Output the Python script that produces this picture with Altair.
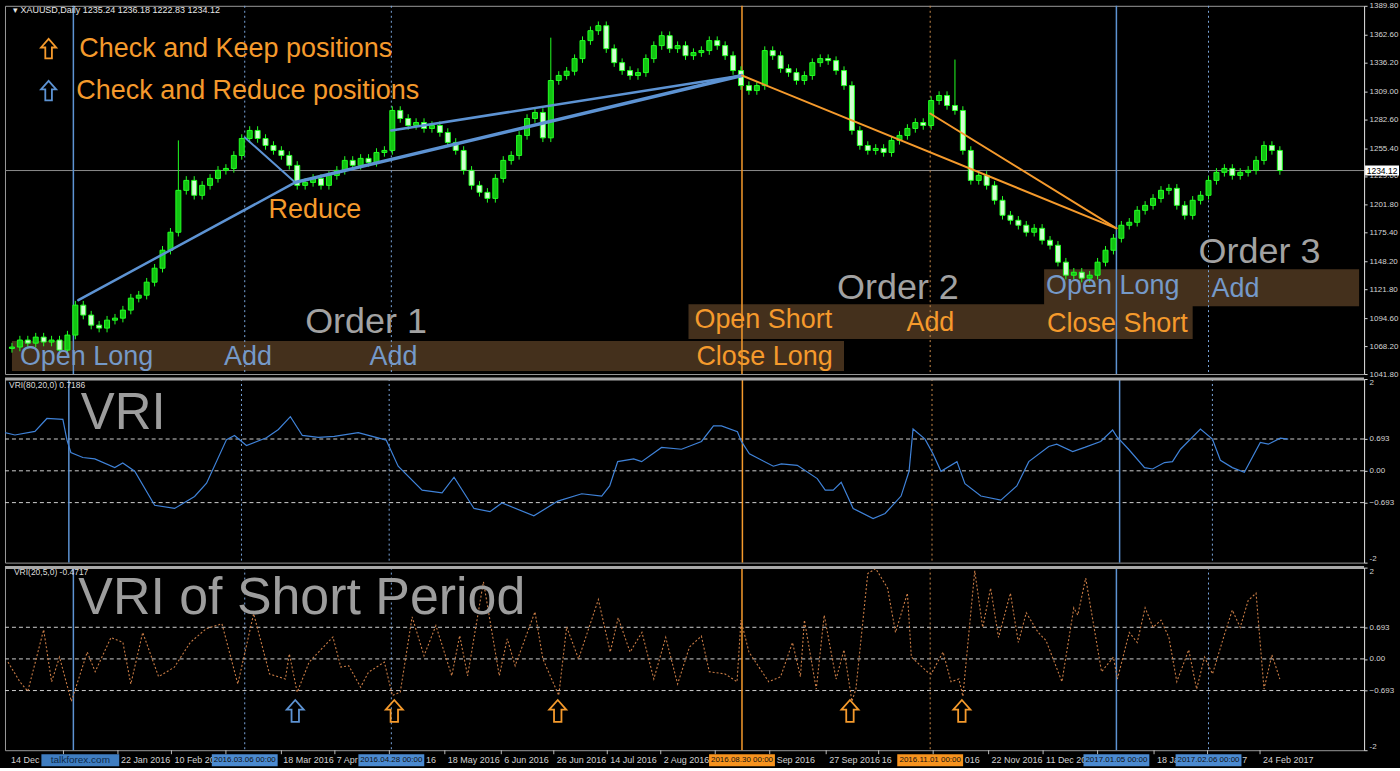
import altair as alt
import pandas as pd

# ---------------- data ----------------
# XAUUSD daily closes, sampled every second trading day (day index = 2*k)
closes = [1067.3, 1073.9, 1071.0, 1076.7, 1072.0, 1073.9, 1064.4, 1078.6, 1106.9, 1097.5,
          1088.0, 1085.2, 1092.7, 1094.6, 1102.2, 1113.5, 1116.3, 1128.6, 1141.8, 1158.8,
          1175.8, 1215.4, 1224.8, 1210.7, 1220.1, 1226.7, 1234.3, 1236.1, 1248.4, 1264.4,
          1272.0, 1264.4, 1257.8, 1253.1, 1248.4, 1239.0, 1220.1, 1222.9, 1226.7, 1220.1,
          1229.5, 1234.3, 1243.7, 1239.0, 1245.6, 1241.8, 1251.2, 1253.1, 1290.9, 1283.3,
          1276.7, 1279.5, 1273.9, 1276.7, 1270.1, 1260.7, 1253.1, 1234.3, 1220.1, 1213.5,
          1207.8, 1226.7, 1243.7, 1248.4, 1267.3, 1283.3, 1289.0, 1265.0, 1319.2, 1324.0,
          1328.0, 1339.9, 1356.9, 1366.3, 1371.0, 1349.3, 1336.1, 1328.6, 1323.9, 1326.7,
          1339.9, 1352.2, 1361.6, 1349.3, 1352.2, 1342.7, 1345.6, 1347.5, 1356.9, 1352.2,
          1342.7, 1328.6, 1314.4, 1309.7, 1314.4, 1347.5, 1342.7, 1330.5, 1326.7, 1319.2,
          1323.9, 1336.1, 1339.9, 1338.0, 1328.6, 1314.4, 1272.0, 1257.8, 1253.1, 1255.0,
          1251.2, 1262.6, 1267.3, 1273.9, 1279.5, 1276.7, 1300.3, 1305.0, 1295.6, 1290.9,
          1253.1, 1224.8, 1229.5, 1220.1, 1206.0, 1191.8, 1187.1, 1182.4, 1175.8, 1179.5,
          1168.2, 1163.5, 1147.5, 1135.2, 1138.0, 1132.4, 1135.2, 1147.5, 1158.8, 1170.1,
          1182.4, 1185.2, 1196.5, 1201.2, 1207.8, 1215.4, 1217.3, 1201.2, 1191.8, 1206.0,
          1210.7, 1224.8, 1232.4, 1236.1, 1229.5, 1232.4, 1234.3, 1243.7, 1257.8, 1253.1,
          1234.12]
first_open = 1066.0
spike_k = [21, 68, 119]
spike_high = [1262.6, 1359.7, 1339.0]
bid = 1234.12

price_ticks = [1041.8, 1068.2, 1094.6, 1121.8, 1148.2, 1175.4, 1201.8, 1229.0,
               1255.4, 1282.6, 1309.0, 1336.2, 1362.6, 1389.8]
vri_ticks = [-2, -0.693, 0, 0.693, 2]
vri_levels = [0.693, 0.0, -0.693]

# VRI(80,20,0)
vri_day = [-1, 2, 7, 10, 14, 15, 16, 19, 22, 27,
           29, 32, 37, 42, 47, 50, 55, 57, 60, 65,
           68, 71, 74, 78, 82, 88, 95, 98, 104, 109,
           112, 117, 121, 124, 132, 138, 144, 149, 151, 153,
           157, 159, 164, 169, 174, 177, 179, 183, 184, 186,
           192, 194, 198, 203, 205, 207, 209, 212, 217, 220,
           224, 226, 227, 230, 232, 234, 238, 240, 244, 249,
           253, 256, 261, 263, 267, 270, 274, 277, 278, 281,
           285, 287, 290, 292, 294, 299, 302, 304, 307, 310,
           314, 316, 319, 321]
vri_val = [0.84, 0.78, 0.86, 1.14, 1.12, 0.68, 0.40, 0.29, 0.26, 0.07,
           0.17, -0.01, -0.75, -0.82, -0.56, -0.27, 0.68, 0.77, 0.55, 0.72,
           0.90, 1.18, 0.77, 0.73, 0.75, 0.83, 0.67, 0.10, -0.42, -0.48,
           -0.14, -0.82, -0.89, -0.70, -0.98, -0.66, -0.50, -0.55, -0.33, 0.20,
           0.26, 0.20, 0.51, 0.47, 0.64, 0.98, 0.98, 0.85, 0.64, 0.37,
           0.10, 0.15, 0.12, -0.17, -0.42, -0.42, -0.25, -0.82, -1.04, -0.93,
           -0.55, -0.01, 0.91, 0.69, 0.37, -0.01, 0.20, -0.28, -0.55, -0.64,
           -0.33, 0.20, 0.53, 0.58, 0.42, 0.51, 0.64, 0.89, 0.75, 0.47,
           0.07, 0.04, 0.18, 0.20, 0.47, 0.91, 0.69, 0.23, 0.07, -0.03,
           0.62, 0.58, 0.71, 0.69]

# VRI(20,5,0) - short period
svri_day = [-1, 2, 4, 8, 10, 12, 15, 19, 21, 25,
            28, 30, 33, 37, 41, 45, 49, 53, 57, 61,
            65, 69, 70, 72, 75, 81, 83, 85, 88, 90,
            94, 96, 98, 101, 104, 107, 111, 113, 115, 119,
            123, 125, 127, 132, 134, 138, 140, 143, 148, 151,
            153, 156, 159, 162, 165, 168, 171, 174, 176, 180,
            183, 184, 186, 191, 194, 197, 199, 200, 203, 205,
            208, 210, 212, 213, 216, 218, 221, 223, 226, 227,
            231, 232, 235, 237, 239, 240, 243, 245, 247, 249,
            252, 254, 256, 259, 261, 265, 268, 269, 271, 275,
            278, 279, 282, 284, 286, 288, 290, 292, 294, 297,
            299, 301, 303, 306, 308, 310, 312, 314, 316, 318,
            320]
svri_val = [-0.07, -0.50, -0.71, 0.64, -0.50, 0.04, -0.93, 0.15, -0.28, 0.47,
            0.36, -0.55, 0.58, -0.39, -0.18, 0.36, 0.66, 0.77, -0.55, 0.99,
            -0.33, -0.44, 0.11, -0.73, -0.07, 0.48, -0.18, -0.15, -0.62, -0.29,
            -0.07, -0.80, -0.73, 0.92, 0.07, 0.73, -0.37, 0.51, -0.37, 1.69,
            -0.37, 0.44, -0.15, 1.03, 0.00, -0.80, 0.70, 0.00, 1.30, 0.15,
            0.90, 0.15, 0.58, -0.44, 0.47, -0.55, 0.26, 0.50, -0.28, -0.33,
            -0.50, 0.85, 0.15, -0.50, -0.39, 0.36, -0.39, 0.85, -0.66, 0.96,
            -0.44, 0.20, -0.93, -0.66, 1.87, 1.98, 1.55, 0.58, 1.44, 0.04,
            -0.28, -0.33, 0.15, -0.50, -0.44, -0.82, 1.93, 0.69, 1.55, 0.47,
            1.44, 0.36, 1.01, 0.58, 0.40, -0.50, 1.12, 0.96, 1.77, -0.28,
            0.04, -0.44, 0.58, 0.36, 1.12, 0.69, 0.85, 0.47, -0.50, 0.20,
            -0.66, 0.04, -0.33, 0.53, 1.07, 0.69, 1.28, 1.44, -0.66, 0.09,
            -0.44]

# x-axis ticks (day index) and the label text left visible beside each
tick_days = [13, 26.75, 40.25, 54, 68, 81.5, 95.25, 109.25, 123.5,
             136.75, 150.25, 163.75, 177.5, 191.25, 205.5, 218.75, 232.5, 246.5, 260.25,
             274, 288.25, 301.75, 315]
date_labels = ["14 Dec", "22 Jan 2016", "10 Feb 20", "18 Mar 2016", "7 Apr", "16",
               "18 May 2016", "6 Jun 2016", "26 Jun 2016", "14 Jul 2016", "2 Aug 2016",
               "Sep 2016", "27 Sep 2016", "16", "016", "22 Nov 2016", "11 Dec 20",
               "18 Ja", "7", "24 Feb 2017"]
date_label_days = [-0.25, 27.5, 41.0, 68.5, 82.0, 104.5,
                   110.0, 124.25, 137.5, 151.0, 164.5,
                   193.0, 206.25, 219.5, 240.5, 247.25, 261.0,
                   289.0, 310.5, 315.75]

# trading events (vertical lines)
event_day = [15.5, 58.75, 95.75, 184.25, 231.75, 278.75, 302]
event_side = ["long", "long", "long", "short", "short", "long", "long"]
event_solid = [True, False, False, True, False, True, False]
event_stamp = ["", "2016.03.06 00:00", "2016.04.28 00:00", "2016.08.30 00:00",
               "2016.11.01 00:00", "2017.01.05 00:00", "2017.02.06 00:00"]

# position trend lines (start day/price -> end day/price)
seg_d1 = [16.75, 58.75, 71.5, 95.75, 184.25, 231.75]
seg_p1 = [1111.6, 1265.4, 1222.9, 1272.0, 1323.9, 1288.0]
seg_d2 = [71.5, 71.5, 184.25, 184.25, 278.75, 278.75]
seg_p2 = [1222.9, 1222.9, 1323.9, 1323.9, 1179.5, 1179.5]
seg_side = ["long", "long", "long", "long", "short", "short"]
seg_w = [2.5, 2.0, 3.5, 2.5, 2.0, 2.0]

# order bands
band_d1 = [0, 170.75, 260.5]
band_d2 = [210, 298, 340]
band_p1 = [1072.9, 1107.8, 1140.9]
band_p2 = [1044.6, 1074.8, 1105.9]

# annotations on price panel
ann_text = ["Check and Keep positions", "Check and Reduce positions", "Reduce", "Order 1",
            "Open Long", "Add", "Add", "Open Short", "Close Long", "Order 2", "Add",
            "Open Long", "Close Short", "Order 3", "Add"]
ann_day = [17.0, 16.25, 64.75, 74.0, 2.0, 53.5, 90.25, 172.25, 172.75, 208.25, 225.75,
           261, 261.25, 299.5, 302.75]
ann_price = [1349.3, 1309.7, 1196.5, 1090.9, 1057.8, 1057.8, 1057.8, 1092.7, 1057.8,
             1122.9, 1089.9, 1124.8, 1089.0, 1156.9, 1122.0]
ann_kind = ["keep", "keep", "keep", "order", "long", "long", "long", "keep", "keep",
            "order", "keep", "long", "keep", "order", "long"]

# check arrows under the short VRI
arrow_day = [71.5, 96.5, 137.75, 211.5, 239.75]
arrow_kind = ["reduce", "keep", "keep", "keep", "keep"]

# ---------------- styling ----------------
FONT = "Liberation Sans"
ORANGE = "#f59a2c"
TXT_BLUE = "#7599c8"
GREY = "#a2a2a2"
LBLUE = "#5d93d3"
BAND = "#44301c"
AXC = "#d4d4d4"
W = 1362
H_P, H_V, H_S = 369, 184, 183
ARROW = "M0,-1 L0.78,-0.12 L0.34,-0.12 L0.34,1 L-0.34,1 L-0.34,-0.12 L-0.78,-0.12 Z"

col_side = {"long": LBLUE, "short": ORANGE}
col_kind = {"keep": ORANGE, "order": GREY, "long": TXT_BLUE, "reduce": LBLUE}
size_kind = {"keep": 27, "order": 36, "long": 27}

xs = alt.Scale(domain=[-0.5, 340], nice=False, zero=False)


def X(f):
    return alt.X(f, type="quantitative", scale=xs, axis=None)


pscale = alt.Scale(domain=[1041.8, 1389.8], nice=False, zero=False)
paxis = alt.Axis(orient="right", values=price_ticks, format=".2f", title=None,
                 labelColor=AXC, labelFont=FONT, labelFontSize=8, domainColor=AXC,
                 tickColor=AXC, tickSize=3, labelPadding=2, grid=False,
                 labelOverlap=False, labelFlush=False)


def PY(f):
    return alt.Y(f, type="quantitative", scale=pscale, axis=paxis)


vscale = alt.Scale(domain=[-2, 2], nice=False, zero=False)
vaxis = alt.Axis(orient="right", values=vri_ticks, title=None,
                 labelExpr="datum.value == 2 ? '2' : datum.value == -2 ? '-2' : datum.value == 0 ? '0.00' : format(datum.value, '.3f')",
                 labelColor=AXC, labelFont=FONT, labelFontSize=8, domainColor=AXC,
                 tickColor=AXC, tickSize=3, labelPadding=2, grid=False,
                 labelOverlap=False, labelFlush=True)


def VY(f):
    return alt.Y(f, type="quantitative", scale=vscale, axis=vaxis)


# ---------------- tables ----------------
opens = [first_open] + closes[:-1]
cdf = pd.DataFrame({"d": [2 * k for k in range(len(closes))], "o": opens, "c": closes})
cdf["h"] = cdf[["o", "c"]].max(axis=1) + 4
cdf["l"] = cdf[["o", "c"]].min(axis=1) - 4
for k, hv in zip(spike_k, spike_high):
    cdf.loc[k, "h"] = hv
cdf["fill"] = ["#12c412" if c >= o else "#d2ffd2" for o, c in zip(cdf["o"], cdf["c"])]

ev = pd.DataFrame({"d": event_day, "side": event_side, "solid": event_solid, "stamp": event_stamp})
ev["col"] = [col_side[s] for s in ev["side"]]
ev_dot_col = {"long": "#7aa6dc", "short": "#c98a4a"}
ev["dcol"] = [ev_dot_col[s] for s in ev["side"]]
ev_s = ev[ev["solid"]]
ev_d = ev[~ev["solid"]]

seg = pd.DataFrame({"d1": seg_d1, "p1": seg_p1, "d2": seg_d2, "p2": seg_p2,
                    "col": [col_side[s] for s in seg_side], "w": seg_w})
bands = pd.DataFrame({"d1": band_d1, "d2": band_d2, "p1": band_p1, "p2": band_p2})
ann = pd.DataFrame({"t": ann_text, "d": ann_day, "p": ann_price,
                    "col": [col_kind[k] for k in ann_kind],
                    "s": [size_kind[k] for k in ann_kind]})
legend_arrows = pd.DataFrame({"d": [9.25, 9.25], "p": [1349.3, 1309.7], "col": [ORANGE, LBLUE]})


def event_layers():
    solid = alt.Chart(ev_s).mark_rule(strokeWidth=1.5).encode(
        x=X("d"), color=alt.Color("col:N", scale=None))
    dotted = alt.Chart(ev_d).mark_rule(strokeWidth=1, strokeDash=[2, 3]).encode(
        x=X("d"), color=alt.Color("dcol:N", scale=None))
    return [solid, dotted]


# ---------------- price panel ----------------
p_bands = alt.Chart(bands).mark_rect(color=BAND).encode(
    x=X("d1"), x2="d2", y=PY("p1"), y2="p2")
p_bid = alt.Chart(pd.DataFrame({"p": [bid]})).mark_rule(color="#8c8c8c", strokeWidth=1).encode(
    y=PY("p"))
p_wick = alt.Chart(cdf).mark_rule(color="#22ff22", strokeWidth=1, clip=True).encode(
    x=X("d"), y=PY("l"), y2="h")
p_body = alt.Chart(cdf).mark_bar(size=5, stroke="#22ff22", strokeWidth=1, clip=True).encode(
    x=X("d"), y=PY("o"), y2="c", fill=alt.Fill("fill:N", scale=None))
p_seg = alt.Chart(seg).mark_rule(strokeCap="round").encode(
    x=X("d1"), x2="d2", y=PY("p1"), y2="p2",
    color=alt.Color("col:N", scale=None), strokeWidth=alt.StrokeWidth("w:Q", scale=None))
p_text = alt.Chart(ann).mark_text(align="left", baseline="middle", font=FONT).encode(
    x=X("d"), y=PY("p"), text="t:N", color=alt.Color("col:N", scale=None),
    size=alt.Size("s:Q", scale=None))
p_arrows = alt.Chart(legend_arrows).mark_point(shape=ARROW, filled=False, strokeWidth=1.8,
                                               size=380, opacity=1).encode(
    x=X("d"), y=PY("p"), color=alt.Color("col:N", scale=None))
p_head = alt.Chart(pd.DataFrame({"t": ["\u25BE XAUUSD,Daily  1235.24 1236.18 1222.83 1234.12"],
                                 "d": [0.25], "p": [1386.0]})).mark_text(
    align="left", baseline="middle", font=FONT, fontSize=9, color="#e6e6e6").encode(
    x=X("d"), y=PY("p"), text="t:N")
bid_df = pd.DataFrame({"p": [bid], "t": [f"{bid:.2f}"], "top": [bid + 4.8], "bot": [bid - 4.8]})
p_box = alt.Chart(bid_df).mark_rect(fill="white").encode(
    x=alt.value(W + 1), x2=alt.value(W + 35), y=PY("top"), y2="bot")
p_boxt = alt.Chart(bid_df).mark_text(font=FONT, fontSize=8.5, color="black", baseline="middle").encode(
    x=alt.value(W + 18), y=PY("p"), text="t:N")

price = alt.layer(p_bands, p_bid, *event_layers(), p_wick, p_body, p_seg, p_text,
                  p_arrows, p_head, p_box, p_boxt).properties(width=W, height=H_P)

# ---------------- VRI panel ----------------
lev = pd.DataFrame({"v": vri_levels})
vdf = pd.DataFrame({"d": vri_day, "v": vri_val})
v_lev = alt.Chart(lev).mark_rule(color="#cfcfcf", strokeDash=[4, 3], strokeWidth=1).encode(y=VY("v"))
v_line = alt.Chart(vdf).mark_line(color="#3f82d8", strokeWidth=1.2, clip=True).encode(
    x=X("d"), y=VY("v"))
v_txt = alt.Chart(pd.DataFrame({"t": ["VRI"], "d": [18.5], "v": [1.23]})).mark_text(
    align="left", baseline="middle", font=FONT, fontSize=51, color="#9d9d9d").encode(
    x=X("d"), y=VY("v"), text="t:N")
v_lab = alt.Chart(pd.DataFrame({"t": ["VRI(80,20,0) 0.7186"], "d": [0.5], "v": [1.87]})).mark_text(
    align="left", baseline="middle", font=FONT, fontSize=8.5, color="#dcdcdc").encode(
    x=X("d"), y=VY("v"), text="t:N")
v_sep = alt.Chart(pd.DataFrame({"v": [2]})).mark_rule(color="#a9a9a9", strokeWidth=3).encode(y=VY("v"))
vri = alt.layer(v_lev, *event_layers(), v_line, v_txt, v_lab, v_sep).properties(width=W, height=H_V)

# ---------------- short VRI panel ----------------
sdf = pd.DataFrame({"d": svri_day, "v": svri_val})
s_line = alt.Chart(sdf).mark_line(color="#c97c45", strokeWidth=1.1, strokeDash=[2, 2], clip=True).encode(
    x=X("d"), y=VY("v"))
s_txt = alt.Chart(pd.DataFrame({"t": ["VRI of Short Period"], "d": [16.75], "v": [1.33]})).mark_text(
    align="left", baseline="middle", font=FONT, fontSize=52, color="#9d9d9d").encode(
    x=X("d"), y=VY("v"), text="t:N")
s_lab = alt.Chart(pd.DataFrame({"t": ["VRI(20,5,0) -0.4717"], "d": [0.5], "v": [1.91]})).mark_text(
    align="left", baseline="middle", font=FONT, fontSize=8.5, color="#dcdcdc").encode(
    x=X("d"), y=VY("v"), text="t:N")
adf = pd.DataFrame({"d": arrow_day, "v": [-1.14] * len(arrow_day),
                    "col": [col_kind[k] for k in arrow_kind]})
s_arr = alt.Chart(adf).mark_point(shape=ARROW, filled=False, strokeWidth=1.8, size=480, opacity=1).encode(
    x=X("d"), y=VY("v"), color=alt.Color("col:N", scale=None))

tdf = pd.DataFrame({"d": tick_days})
ldf = pd.DataFrame({"d": date_label_days, "t": date_labels})
s_ticks = alt.Chart(tdf).mark_rule(color="#bdbdbd").encode(
    x=X("d"), y=alt.value(H_S), y2=alt.value(H_S + 4))
s_dates = alt.Chart(ldf).mark_text(align="left", baseline="middle", font=FONT,
                                   fontSize=9, color="#d2d2d2").encode(
    x=X("d"), y=alt.value(H_S + 10), text="t:N")
box_df = ev[ev["stamp"] != ""].copy()
box_df["bcol"] = ["#4b8ad0" if s == "long" else "#f7931e" for s in box_df["side"]]
s_boxes = alt.Chart(box_df).mark_bar(size=66).encode(
    x=X("d"), y=alt.value(H_S + 4), y2=alt.value(H_S + 16), color=alt.Color("bcol:N", scale=None))
s_boxt = alt.Chart(box_df).mark_text(font=FONT, fontSize=8, color="#121212", baseline="middle").encode(
    x=X("d"), y=alt.value(H_S + 10), text="stamp:N")
wm = pd.DataFrame({"d": [17.25], "t": ["talkforex.com"]})
s_wm = alt.Chart(wm).mark_bar(size=78, color="#3f7dc0").encode(
    x=X("d"), y=alt.value(H_S + 4), y2=alt.value(H_S + 16))
s_wmt = alt.Chart(wm).mark_text(font=FONT, fontSize=10, color="#0d2a4a", baseline="middle").encode(
    x=X("d"), y=alt.value(H_S + 10), text="t:N")
s_sep = alt.Chart(pd.DataFrame({"v": [2]})).mark_rule(color="#a9a9a9", strokeWidth=3).encode(y=VY("v"))

short = alt.layer(v_lev, *event_layers(), s_line, s_txt, s_lab, s_arr, s_ticks, s_dates,
                  s_boxes, s_boxt, s_wm, s_wmt, s_sep).properties(width=W, height=H_S)

chart = alt.vconcat(price, vri, short, spacing=5, bounds="flush").configure(
    background="black",
    padding={"left": 3, "top": 0, "right": 0, "bottom": 0},
).configure_view(stroke="#9a9a9a", strokeWidth=1)

chart.save("out.html", embed_options={"renderer": "svg", "actions": False})
